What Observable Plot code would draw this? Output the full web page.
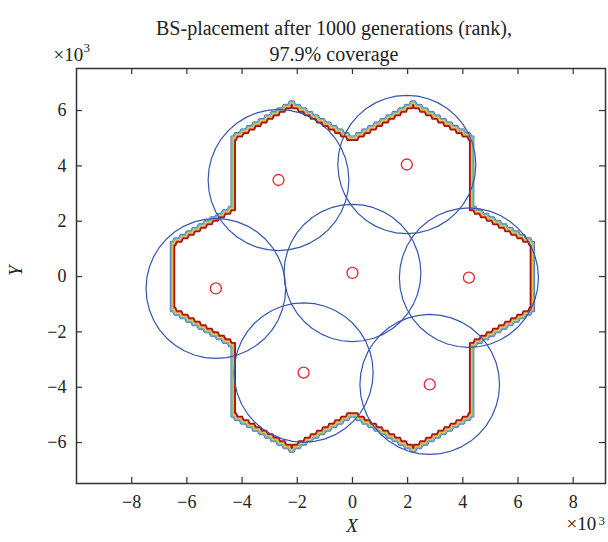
<!DOCTYPE html>
<html><head><meta charset="utf-8">
<script src="https://cdn.jsdelivr.net/npm/d3@7"></script>
<script src="https://cdn.jsdelivr.net/npm/@observablehq/plot@0.6"></script>
<style>body{margin:0;background:#fff}</style>
</head><body><div id="chart"></div>
<script>
// Base-station positions (m)
const bsX = [0, -2680, 1970, 4220, -4950, -1770, 2800];
const bsY = [130, 3490, 4050, -40, -430, -3470, -3900];
// Coverage radius of each base station (m)
const covR = [2480, 2550, 2500, 2520, 2530, 2520, 2530];
// Cluster outline vertices (m), seven hexagonal cells
const outlineX = [-2200, 0, 2200, 4400, 4400, 6600, 6600, 4400, 4400, 2200, 0, -2200, -4400, -4400, -6600, -6600, -4400, -4400];
const outlineY = [6350, 5080, 6350, 5080, 2540, 1270, -1270, -2540, -5080, -6350, -5080, -6350, -5080, -2540, -1270, 1270, 2540, 5080];
// Rank contour colours, outside to inside
const bandColors = ["#3d5ea8", "#6ba6d6", "#5bb28c", "#e2d44c", "#f0952c", "#de2f1f", "#a0150d"];
const xTicks = [-8000, -6000, -4000, -2000, 0, 2000, 4000, 6000, 8000];
const yTicks = [-6000, -4000, -2000, 0, 2000, 4000, 6000];
const titleLines = ["BS-placement after 1000 generations (rank),", "97.9% coverage"];

const W = 608, H = 542;
const mL = 76, mR = 3, mT = 68, mB = 59;
const frameH = H - mT - mB, frameW = W - mL - mR;
const pxToM = 1000 / 27.67;

// rasterised (grid) outline: each sloped cell edge becomes a staircase
function staircase(xs, ys, n) {
  const pts = [], m = xs.length;
  for (let k = 0; k < m; k++) {
    const ax = xs[k], ay = ys[k], bx = xs[(k + 1) % m], by = ys[(k + 1) % m];
    pts.push([ax, ay]);
    if (ax !== bx && ay !== by) {
      const dx = bx - ax, dy = by - ay, h = Math.abs(dy) / n, sx = Math.sign(dx);
      for (let i = 1; i <= n; i++) {
        const xm = ax + (i - 0.5) * dx / n;
        pts.push([xm - sx * h * 0.2, ay + (i - 1) * dy / n]);
        pts.push([xm + sx * h * 0.2, ay + i * dy / n]);
      }
    }
  }
  return pts;
}
function inset(pts, d) {
  const m = pts.length, out = [];
  for (let i = 0; i < m; i++) {
    const p = pts[(i - 1 + m) % m], v = pts[i], q = pts[(i + 1) % m];
    let ax = v[0] - p[0], ay = v[1] - p[1], bx = q[0] - v[0], by = q[1] - v[1];
    const la = Math.hypot(ax, ay), lb = Math.hypot(bx, by);
    ax /= la; ay /= la; bx /= lb; by /= lb;
    const nax = ay, nay = -ax, nbx = by, nby = -bx;
    const k = d / (1 + nax * nbx + nay * nby);
    out.push([v[0] + k * (nax + nbx), v[1] + k * (nay + nby)]);
  }
  out.push(out[0]);
  return out;
}
const stair = staircase(outlineX, outlineY, 10);
const bandMarks = bandColors.map((c, i) => {
  const pts = inset(stair, i * 0.7 * pxToM).map(([x, y]) => ({x, y}));
  return Plot.line(pts, {x: "x", y: "y", stroke: c, strokeWidth: i === bandColors.length - 1 ? 1.5 : 1.0, strokeLinejoin: "miter"});
});

// coverage circles
const circlePts = [];
bsX.forEach((cx, k) => {
  const N = 40;
  for (let i = 0; i <= N; i++) {
    const a = 2 * Math.PI * i / N;
    circlePts.push({k, x: cx + covR[k] * Math.cos(a), y: bsY[k] + covR[k] * Math.sin(a)});
  }
});
const bs = bsX.map((x, i) => ({x, y: bsY[i]}));
const fmt = d => (d < 0 ? "\u2212" : "") + Math.abs(d / 1000);

const chart = Plot.plot({
  width: W, height: H,
  marginLeft: mL, marginRight: mR, marginTop: mT, marginBottom: mB,
  x: {domain: [-10000, 9170]},
  y: {domain: [-7480, 7520]},
  style: {fontFamily: "'Liberation Serif', serif", fontSize: "18px", color: "#222", background: "#fff", overflow: "visible"},
  marks: [
    ...bandMarks,
    Plot.line(circlePts, {x: "x", y: "y", z: "k", stroke: "#3656ad", strokeWidth: 1.2}),
    Plot.dot(bs, {x: "x", y: "y", r: 5.5, stroke: "#e8232b", strokeWidth: 1.3, fill: "none"}),
    Plot.frame({stroke: "#333", strokeWidth: 1.5}),
    Plot.tickX(xTicks, {x: d => d, insetTop: frameH - 6, stroke: "#333", strokeWidth: 1.2}),
    Plot.tickX(xTicks, {x: d => d, insetBottom: frameH - 6, stroke: "#333", strokeWidth: 1.2}),
    Plot.tickY(yTicks, {y: d => d, insetRight: frameW - 6, stroke: "#333", strokeWidth: 1.2}),
    Plot.tickY(yTicks, {y: d => d, insetLeft: frameW - 6, stroke: "#333", strokeWidth: 1.2}),
    Plot.axisX(xTicks, {tickSize: 0, tickPadding: 12, tickFormat: fmt, label: null, fontSize: 18}),
    Plot.axisY(yTicks, {tickSize: 0, tickPadding: 10, tickFormat: fmt, label: null, fontSize: 18}),
    Plot.text([titleLines[0]], {text: d => d, frameAnchor: "top", dx: -7, dy: -48, fontSize: 20}),
    Plot.text([titleLines[1]], {text: d => d, frameAnchor: "top", dx: -7, dy: -22, fontSize: 20}),
    Plot.text(["\u00d710"], {text: d => d, frameAnchor: "top-left", textAnchor: "start", dx: -23, dy: -21.5, fontSize: 19}),
    Plot.text(["3"], {text: d => d, frameAnchor: "top-left", textAnchor: "start", dx: 7, dy: -26, fontSize: 13}),
    Plot.text(["\u00d710"], {text: d => d, frameAnchor: "bottom-right", textAnchor: "start", dx: -39, dy: 46, fontSize: 19}),
    Plot.text(["3"], {text: d => d, frameAnchor: "bottom-right", textAnchor: "start", dx: -7, dy: 41, fontSize: 13}),
    Plot.text(["X"], {text: d => d, frameAnchor: "bottom", dx: 11, dy: 48, fontSize: 19, fontStyle: "italic"}),
    Plot.text(["Y"], {text: d => d, frameAnchor: "left", dx: -61, rotate: -90, fontSize: 19, fontStyle: "italic"})
  ]
});
document.getElementById("chart").append(chart);
</script>
</body></html>
